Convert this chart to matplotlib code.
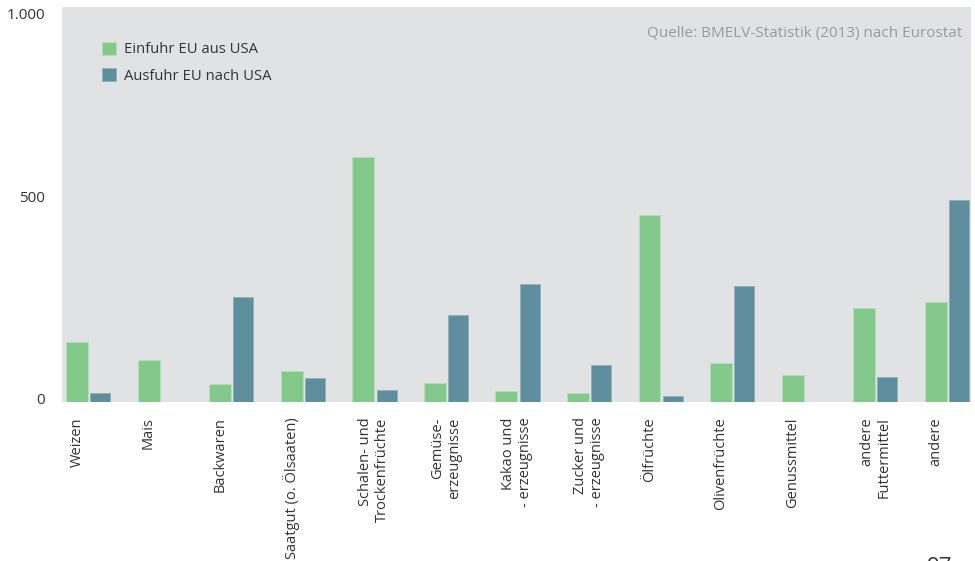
import numpy as np
import matplotlib
matplotlib.use("Agg")
import matplotlib.pyplot as plt
import matplotlib.transforms as mtransforms

plt.rcParams['font.family'] = ['Open Sans', 'DejaVu Sans']

categories = ["Weizen", "Mais", "Backwaren", "Saatgut (o. Ölsaaten)",
              "Schalen- und\nTrockenfrüchte", "Gemüse-\nerzeugnisse",
              "Kakao und\n- erzeugnisse", "Zucker und\n- erzeugnisse",
              "Ölfrüchte", "Olivenfrüchte", "Genussmittel",
              "andere\nFuttermittel", "andere"]
einfuhr = [150, 103, 45, 76, 608, 46, 27, 22, 464, 98, 66, 233, 247]
ausfuhr = [22, 0, 260, 60, 29, 216, 293, 92, 15, 288, 0, 61, 500]
series_names = ["Einfuhr EU aus USA", "Ausfuhr EU nach USA"]
ytick_vals = [0, 500]
ytick_labels = ["0", "500"]

green = "#82c98b"
blue = "#5f8e9e"
txt = "#333333"

fig = plt.figure(figsize=(9.75, 5.61), dpi=100)
ax = fig.add_axes([0.0636, 0.2834, 0.9323, 0.7041])
ax.set_facecolor("#e1e2e3")

x = np.arange(len(categories))
ax.bar(x - 0.16, einfuhr, width=0.307, color=green, edgecolor="#b5dfba",
       linewidth=0.6, label=series_names[0])
ax.bar(x + 0.165, ausfuhr, width=0.28, color=blue, edgecolor="#8fb1bd",
       linewidth=0.6, label=series_names[1])

ax.set_xlim(-0.37, 12.333)
ax.set_ylim(0, 980)
for s in ax.spines.values():
    s.set_visible(False)

ax.set_yticks(ytick_vals)
ax.set_yticklabels(ytick_labels, fontsize=11, color=txt)
ax.tick_params(axis="y", length=0, pad=12)
up = mtransforms.ScaledTranslation(0, 0.04, fig.dpi_scale_trans)
for lab in ax.get_yticklabels():
    lab.set_transform(lab.get_transform() + up)
ax.annotate("1.000", xy=(0, 1), xycoords="axes fraction", xytext=(-12, -6),
            textcoords="offset points", ha="right", va="center",
            fontsize=11, color=txt)

ax.set_xticks(x - 0.16)
ax.set_xticklabels(categories, rotation=90, fontsize=10.5, color=txt,
                   ha="center", va="top", multialignment="right")
ax.tick_params(axis="x", length=0, pad=11)
shift = mtransforms.ScaledTranslation(0.11, 0, fig.dpi_scale_trans)
for lab in ax.get_xticklabels():
    if "\n" in lab.get_text():
        lab.set_transform(lab.get_transform() + shift)

ax.legend(loc="upper left", bbox_to_anchor=(0.044, 0.912), frameon=False,
          fontsize=10.7, handlelength=0.95, handleheight=0.95, handletextpad=0.5,
          labelspacing=0.75, borderpad=0, borderaxespad=0, labelcolor=txt)

ax.text(0.99, 0.932, "Quelle: BMELV-Statistik (2013) nach Eurostat",
        transform=ax.transAxes, ha="right", va="center", fontsize=11,
        color="#9a9a9a")

fig.text(0.964, -0.012, "97", ha="center", va="center", fontsize=16,
         color=txt)

fig.savefig("out.png", dpi=100)
